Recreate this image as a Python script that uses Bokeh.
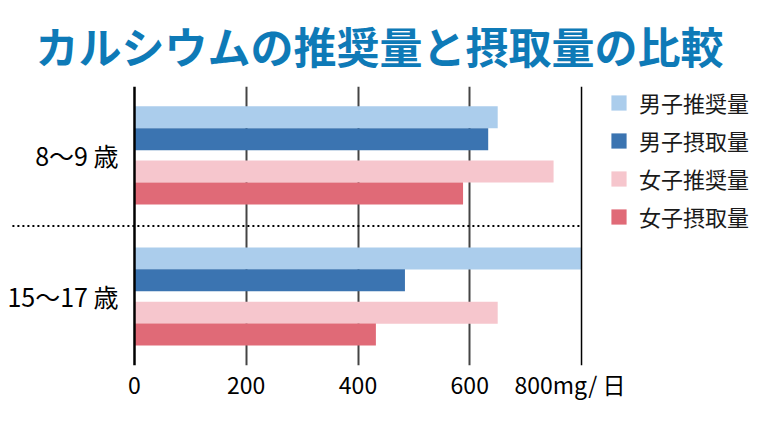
from bokeh.plotting import figure
from bokeh.models import Range1d, FixedTicker, Span, Legend, LegendItem
from bokeh.embed import file_html
from bokeh.resources import INLINE
from bokeh.core.properties import value

# ---- data ----
groups = ["8〜9 歳", "15〜17 歳"]
series = ["男子推奨量", "男子摂取量", "女子推奨量", "女子摂取量"]
boys_rec = [650, 800]
boys_int = [633, 484]
girls_rec = [750, 650]
girls_int = [588, 432]
x_ticks = [0, 200, 400, 600, 800]
x_tick_labels = ["0", "200", "400", "600", "800mg/ 日\u2002\u2002"]
title_text = "カルシウムの推奨量と摂取量の比較"

colors = ["#abcdec", "#3b74b1", "#f6c6cd", "#e06a77"]
FONT = "Noto Sans CJK JP"

values = [boys_rec, boys_int, girls_rec, girls_int]
offsets = [-0.27, -0.115, 0.115, 0.27]
bar_h = 0.156

X0 = -239.8        # left edge of the canvas
X_SEP = -218.5     # where the dotted separator starts
X1 = 1120.3

p = figure(width=760, height=421, output_backend="svg", toolbar_location=None,
           x_range=Range1d(X0, X1), y_range=Range1d(1.489, -0.488),
           min_border_left=0, min_border_right=0, min_border_top=86,
           min_border_bottom=56, outline_line_color=None)

p.title.text = title_text
p.title.text_font = FONT
p.title.text_font_size = "43px"
p.title.text_font_style = "bold"
p.title.text_color = "#0e7ab7"
p.title.align = "left"
p.title.offset = 35
p.title.standoff = 21

yidx = list(range(len(groups)))
renderers = []
for vals, off, col in zip(values, offsets, colors):
    r = p.hbar(y=[i + off for i in yidx], right=vals, left=0, height=bar_h,
               fill_color=col, line_color=None)
    renderers.append(r)

# grid
p.ygrid.visible = False
p.xgrid.ticker = FixedTicker(ticks=[200, 400, 600])
p.xgrid.grid_line_color = "#444444"
p.xgrid.grid_line_width = 2

p.add_layout(Span(location=x_ticks[-1], dimension="height", line_color="black", line_width=1.5))
p.add_layout(Span(location=0, dimension="height", line_color="black", line_width=2.5))

# dotted separator between the groups
p.segment(x0=[X_SEP], x1=[x_ticks[-1]], y0=[0.5], y1=[0.5], line_color="black",
          line_width=2, line_dash="2 3")

# axes
p.yaxis.visible = False
ax = p.xaxis[0]
ax.ticker = FixedTicker(ticks=x_ticks)
ax.major_label_overrides = {t: l for t, l in zip(x_ticks, x_tick_labels)}
ax.axis_line_color = None
ax.major_tick_line_color = None
ax.minor_tick_line_color = None
ax.major_label_text_font = FONT
ax.major_label_text_font_size = "23px"
ax.major_label_text_color = "black"
ax.major_label_standoff = -5

# group labels
p.text(x=[0] * len(groups), y=yidx, text=groups, text_align="right",
       text_baseline="middle", x_offset=-16, text_font=value(FONT),
       text_font_size="25px", text_color="black")

legend = Legend(items=[LegendItem(label=s, renderers=[r]) for s, r in zip(series, renderers)],
                location=(609, 133), glyph_width=19, glyph_height=19,
                label_text_font=FONT, label_text_font_size="22px",
                label_text_color="#1a1a1a",
                label_standoff=11, spacing=6, padding=0, margin=0,
                border_line_color=None, background_fill_alpha=0)
p.add_layout(legend)

open("out.html", "w").write(file_html(p, INLINE))
